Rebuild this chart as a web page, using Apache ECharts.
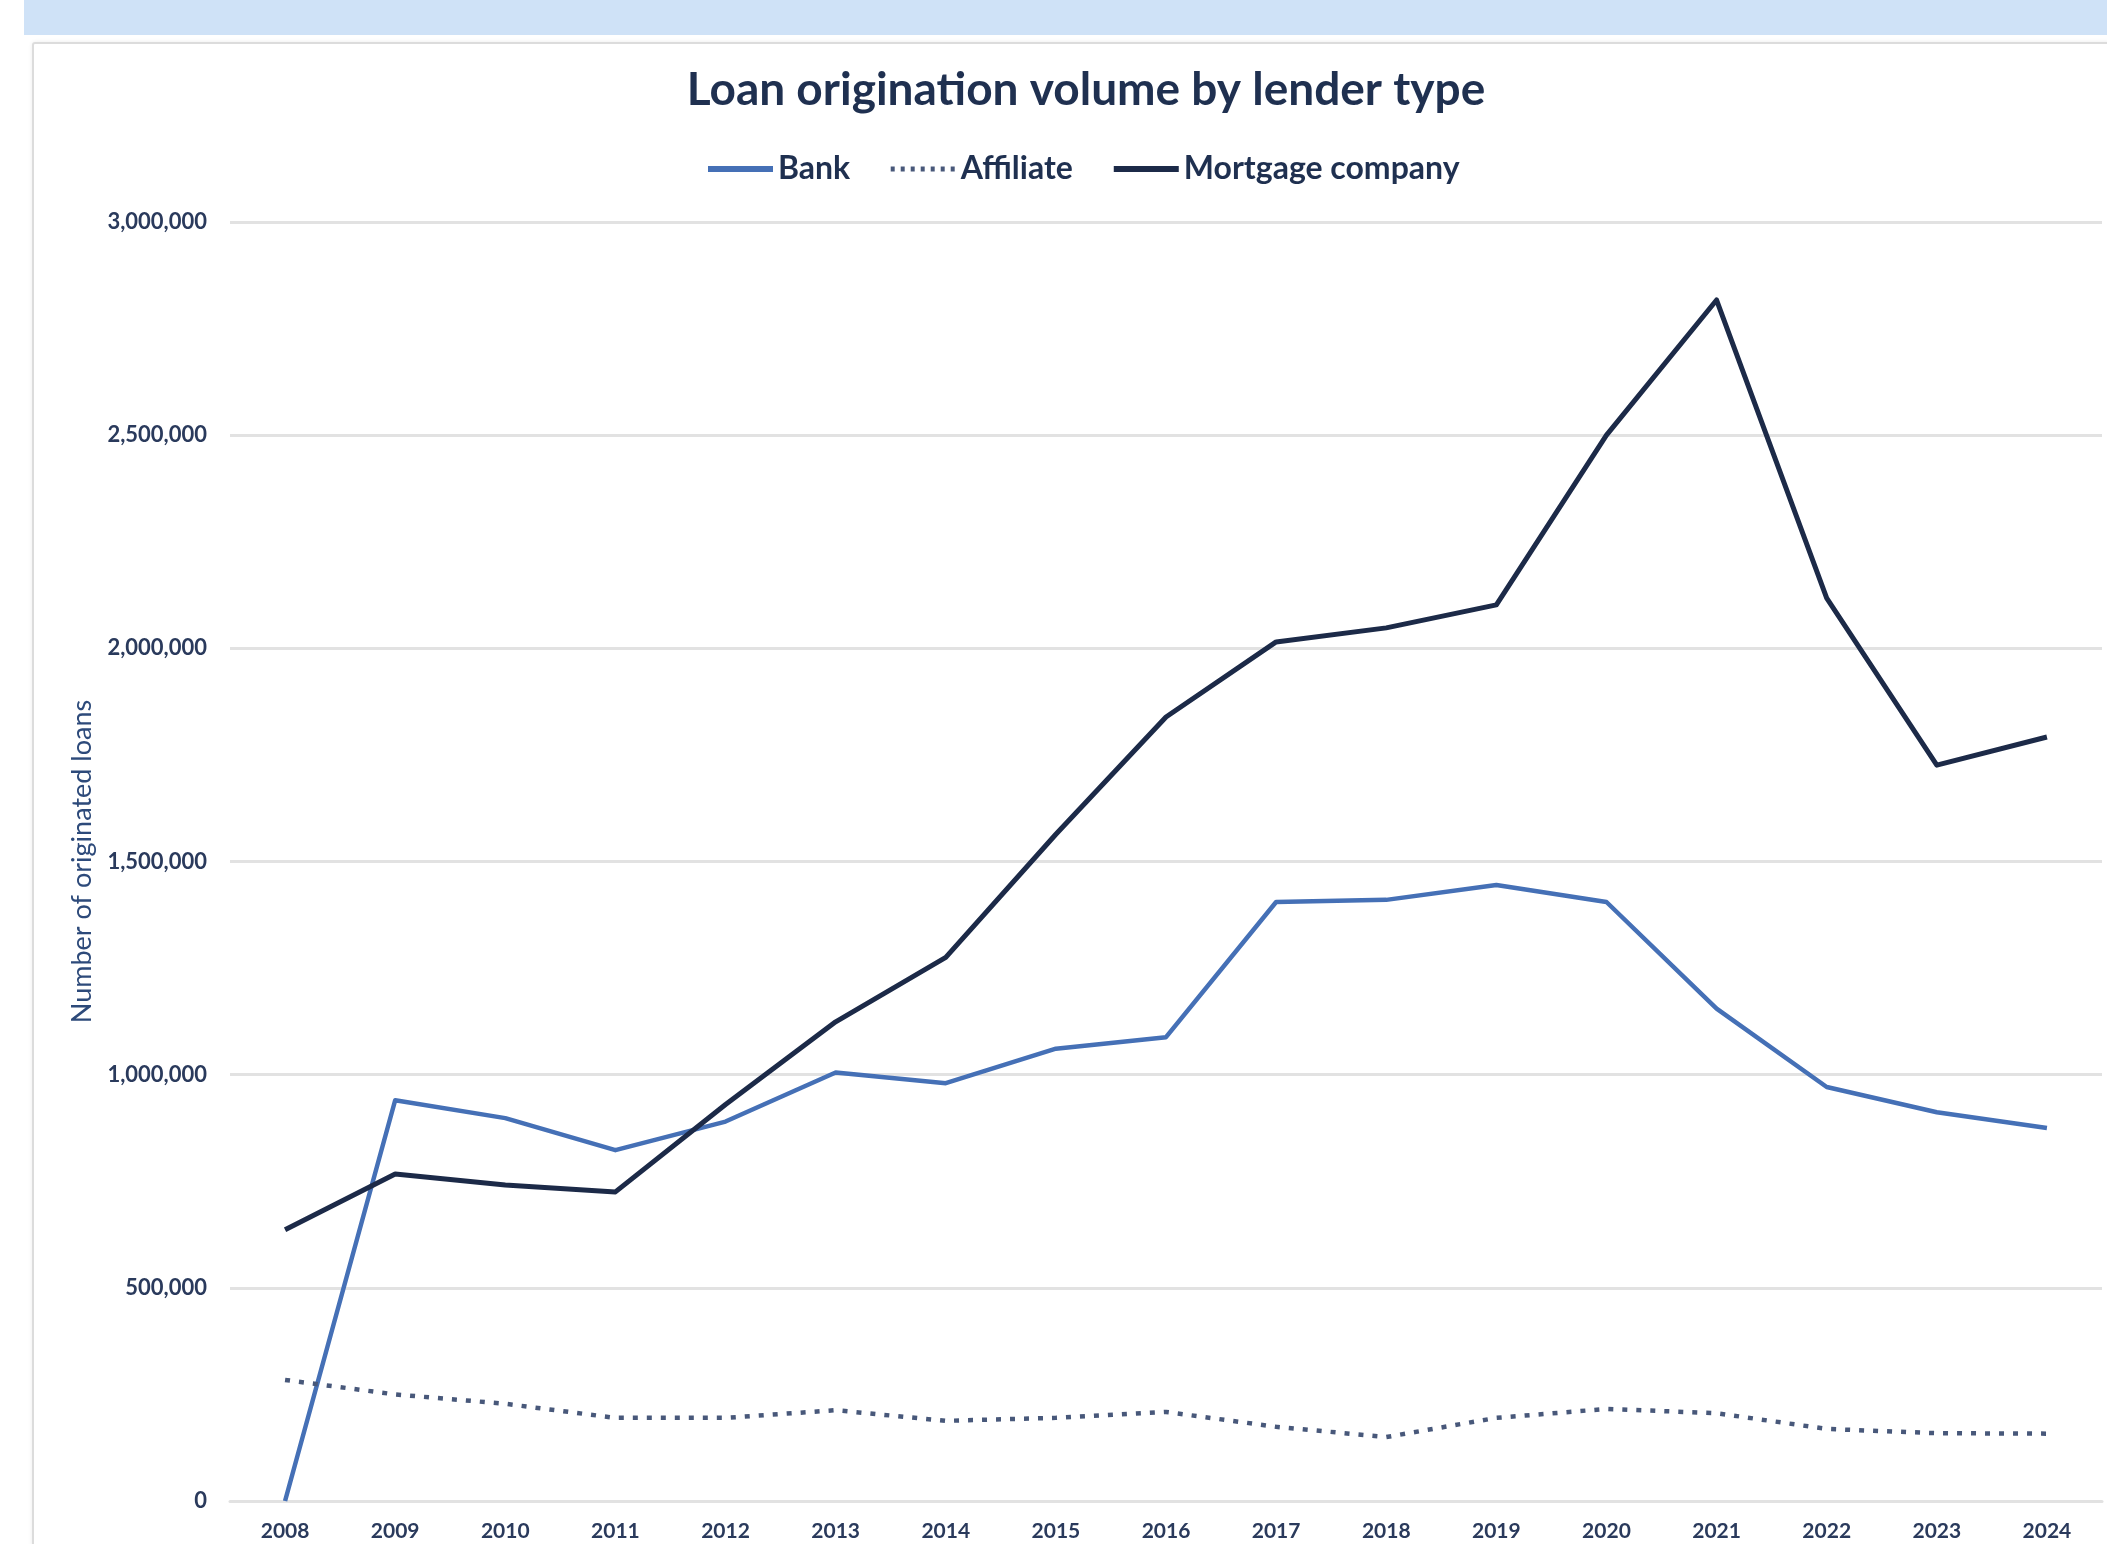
<!DOCTYPE html>
<html>
<head>
<meta charset="utf-8">
<title>Loan origination volume by lender type</title>
<script src="https://cdn.jsdelivr.net/npm/echarts@6/dist/echarts.min.js"></script>
<style>
  html, body { margin: 0; padding: 0; background: #ffffff; }
  body { width: 2107px; height: 1544px; position: relative; overflow: hidden; }
  .band { position: absolute; left: 24px; top: 0; right: 0; height: 35px; background: #cfe2f7; }
  .card { position: absolute; left: 32px; top: 42px; right: -4px; bottom: -4px;
          border: 2px solid #dcdcdc; border-radius: 3px; background: #ffffff;
          box-shadow: 0 0 4px rgba(0,0,0,0.08); }
  #chart { position: absolute; left: 0; top: 0; width: 2107px; height: 1544px; }
</style>
</head>
<body>
<div class="band"></div>
<div class="card"></div>
<div id="chart"></div>
<script>
// Origination years on the category axis
const years = ['2008', '2009', '2010', '2011', '2012', '2013', '2014', '2015', '2016',
               '2017', '2018', '2019', '2020', '2021', '2022', '2023', '2024'];

// Number of originated loans per lender type
const bank = [0, 940000, 898000, 823000, 890000, 1005000, 980000, 1061000, 1088000,
              1405000, 1410000, 1445000, 1405000, 1155000, 971000, 912000, 875000];
const affiliate = [284000, 250000, 228000, 195000, 195000, 213000, 188000, 195000, 209000,
                   174000, 150000, 195000, 216000, 206000, 169000, 159000, 158000];
const mortgageCompany = [636000, 767000, 741000, 725000, 930000, 1124000, 1275000, 1564000, 1839000,
                         2015000, 2048000, 2102000, 2500000, 2817000, 2118000, 1726000, 1792000];

// Value axis ticks
const yTicks = [0, 500000, 1000000, 1500000, 2000000, 2500000, 3000000];

const FONT = 'Lato, "Open Sans", sans-serif';
const NAVY = '#1f3050';

const BANK_COLOR = '#4570b6';
const AFFILIATE_COLOR = '#48587a';
const MORTGAGE_COLOR = '#1c2a48';

const chart = echarts.init(document.getElementById('chart'), null, { renderer: 'canvas' });

chart.setOption({
  backgroundColor: 'transparent',
  animation: false,
  title: {
    text: 'Loan origination volume by lender type',
    left: 1081,
    textAlign: 'center',
    top: 62,
    textStyle: { fontFamily: FONT, fontSize: 46, fontWeight: 'bold', color: NAVY }
  },
  legend: {
    top: 148,
    left: 700,
    itemWidth: 65,
    itemHeight: 14,
    itemGap: 38,
    itemStyle: { opacity: 0 },
    textStyle: { fontFamily: FONT, fontSize: 32, fontWeight: 'bold', color: NAVY },
    data: [
      { name: 'Bank', lineStyle: { width: 6, color: BANK_COLOR } },
      { name: 'Affiliate', lineStyle: { width: 5, color: AFFILIATE_COLOR, type: [4, 6] } },
      { name: 'Mortgage company', lineStyle: { width: 6, color: MORTGAGE_COLOR } }
    ]
  },
  grid: { left: 230, right: 5, top: 222, bottom: 43, containLabel: false },
  xAxis: {
    type: 'category',
    data: years,
    boundaryGap: true,
    axisLine: { show: true, lineStyle: { color: '#e2e2e2', width: 3 } },
    axisTick: { show: false },
    axisLabel: { margin: 20, fontFamily: FONT, fontSize: 21, fontWeight: 'bold', color: '#2a3a5c' },
    splitLine: { show: false }
  },
  yAxis: {
    type: 'value',
    min: yTicks[0],
    max: yTicks[yTicks.length - 1],
    interval: yTicks[1] - yTicks[0],
    name: 'Number of originated loans',
    nameLocation: 'middle',
    nameGap: 134,
    nameRotate: 90,
    nameTextStyle: { fontFamily: FONT, fontSize: 27, color: '#2d4a7a' },
    axisLine: { show: false },
    axisTick: { show: false },
    axisLabel: {
      margin: 23,
      fontFamily: FONT, fontSize: 22, fontWeight: 'bold', color: '#2a3a5c',
      formatter: v => v.toLocaleString('en-US')
    },
    splitLine: { show: true, lineStyle: { color: '#e2e2e2', width: 3 } }
  },
  series: [
    {
      name: 'Bank',
      type: 'line',
      data: bank,
      symbol: 'none',
      color: BANK_COLOR,
      lineStyle: { width: 4.5, color: BANK_COLOR, join: 'round' }
    },
    {
      name: 'Affiliate',
      type: 'line',
      data: affiliate,
      symbol: 'none',
      color: AFFILIATE_COLOR,
      lineStyle: { width: 4.5, color: AFFILIATE_COLOR, type: [5, 9], cap: 'butt' }
    },
    {
      name: 'Mortgage company',
      type: 'line',
      data: mortgageCompany,
      symbol: 'none',
      color: MORTGAGE_COLOR,
      lineStyle: { width: 5, color: MORTGAGE_COLOR, join: 'round' }
    }
  ]
});
</script>
</body>
</html>
